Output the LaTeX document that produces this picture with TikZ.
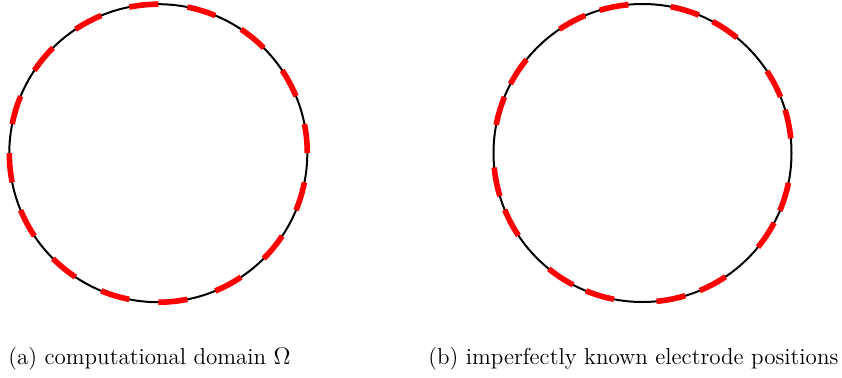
\documentclass[tikz,border=0pt]{standalone}
\begin{document}
\begin{tikzpicture}[x=0.5pt, y=0.5pt,
    boundary/.style={line width=1pt, black},
    electrode/.style={line width=2.8pt, red},
    caption/.style={anchor=base west, inner sep=0pt, font=\fontsize{11.5}{13}\selectfont}]
    \useasboundingbox (0,0) rectangle (842,377);
    \def\rad{149}

    % (a) Rechengebiet mit 16 gleichmaessig verteilten Elektroden
    \coordinate (cL) at (158.3,223.8);
    \draw[boundary] (cL) circle (\rad);
    \foreach \a in {0,22.5,...,337.5} {
        \draw[electrode] (cL) ++(\a:\rad) arc[start angle=\a, delta angle=11.25, radius=\rad];
    }

    % (b) gestoerte Elektrodenpositionen
    \coordinate (cR) at (642.5,224);
    \draw[boundary] (cR) circle (\rad);
    \foreach \a in {95.4,67.8,50.7,22.1,5.6,-22.8,-39.2,-67.4,-84.6,
                    247.7,231,202.4,185.6,157.9,141.1,112.6} {
        \draw[electrode] (cR) ++(\a:\rad) arc[start angle=\a, delta angle=11.25, radius=\rad];
    }

    % Bildunterschriften
    \node[caption] (capA) at (8,13) {(a) computational domain $\Omega$};
    \node[caption] (capB) at (428,13) {(b) imperfectly known electrode positions};
\end{tikzpicture}
\end{document}
